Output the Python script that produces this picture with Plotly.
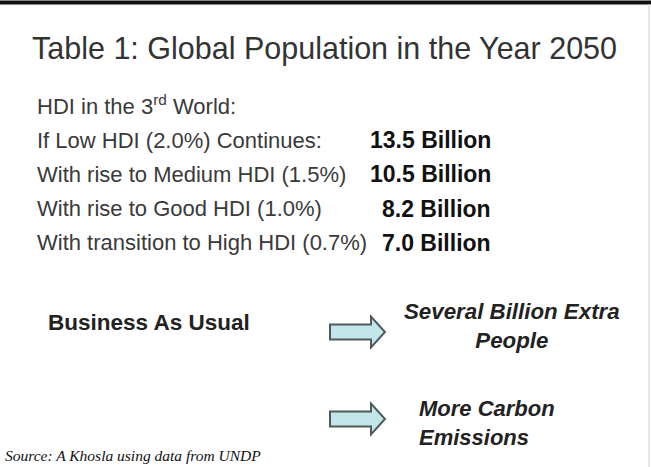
import plotly.graph_objects as go

W, H = 651, 467

title_text = "Table 1: Global Population in the Year 2050"
header_text = "HDI in the 3<sup>rd</sup> World:"
scenario_labels = [
    "If Low HDI (2.0%) Continues:",
    "With rise to Medium HDI (1.5%)",
    "With rise to Good HDI (1.0%)",
    "With transition to High HDI (0.7%)",
]
hdi_growth_pct = [2.0, 1.5, 1.0, 0.7]
population_billion = [13.5, 10.5, 8.2, 7.0]
population_unit = "Billion"
bau_label = "Business As Usual"
consequences = ["Several Billion Extra<br>People", "More Carbon<br>Emissions"]
source_text = "Source: A Khosla using data from UNDP"

FONT = "Liberation Sans, Arial, sans-serif"
TXT = "#3a3a3a"

fig = go.Figure()
fig.update_layout(
    width=W, height=H,
    margin=dict(l=0, r=0, t=0, b=0),
    paper_bgcolor="white", plot_bgcolor="white",
    showlegend=False,
    xaxis=dict(range=[0, W], visible=False, fixedrange=True),
    yaxis=dict(range=[H, 0], visible=False, fixedrange=True),
)

ann = []
ann.append(dict(x=30, y=48, text=title_text, xanchor="left", yanchor="middle",
                font=dict(family=FONT, size=30.5, color="#333333")))
ann.append(dict(x=35, y=105, text=header_text, xanchor="left", yanchor="middle",
                font=dict(family=FONT, size=22, color=TXT)))
row_y0, row_dy = 140, 34.3
for i, (lab, val) in enumerate(zip(scenario_labels, population_billion)):
    y = row_y0 + i * row_dy
    ann.append(dict(x=35, y=y, text=lab, xanchor="left", yanchor="middle",
                    font=dict(family=FONT, size=22, color=TXT)))
    ann.append(dict(x=493, y=y, text=f"<b>{val:.1f} {population_unit}</b>",
                    xanchor="right", yanchor="middle",
                    font=dict(family=FONT, size=23, color="#111111")))
ann.append(dict(x=149, y=322, text=f"<b>{bau_label}</b>", xanchor="center", yanchor="middle",
                font=dict(family=FONT, size=22.5, color="#222222")))
ann.append(dict(x=512, y=326, text=f"<b><i>{consequences[0]}</i></b>", xanchor="center",
                yanchor="middle", align="center",
                font=dict(family=FONT, size=22.3, color="#222222")))
ann.append(dict(x=417, y=423, text=f"<b><i>{consequences[1]}</i></b>", xanchor="left",
                yanchor="middle", align="left",
                font=dict(family=FONT, size=22, color="#222222")))
ann.append(dict(x=3, y=455, text=f"<i>{source_text}</i>", xanchor="left", yanchor="middle",
                font=dict(family="Liberation Serif, Times New Roman, serif", size=15.5, color="#111111")))
for a in ann:
    a.update(xref="x", yref="y", showarrow=False)
fig.update_layout(annotations=ann)

def arrow_path(x0, yc, shaft_len=41, shaft_h=15, head_h=31, head_len=14):
    xs = x0 + shaft_len
    return (f"M {x0},{yc - shaft_h/2} L {xs},{yc - shaft_h/2} L {xs},{yc - head_h/2} "
            f"L {xs + head_len},{yc} L {xs},{yc + head_h/2} L {xs},{yc + shaft_h/2} "
            f"L {x0},{yc + shaft_h/2} Z")

shapes = [
    dict(type="path", path=arrow_path(330, 332), xref="x", yref="y",
         fillcolor="#c2e6ea", line=dict(color="#4f5a5a", width=2)),
    dict(type="path", path=arrow_path(330, 419), xref="x", yref="y",
         fillcolor="#c2e6ea", line=dict(color="#4f5a5a", width=2)),
    dict(type="rect", x0=0, x1=W, y0=0.5, y1=4.5, xref="x", yref="y",
         fillcolor="#111111", line=dict(width=0)),
    dict(type="line", x0=649, x1=649, y0=4, y1=H, xref="x", yref="y",
         line=dict(color="#d0d0d0", width=1)),
]
fig.update_layout(shapes=shapes)

fig.write_html("out.html", config={"displayModeBar": False},
               post_script="document.body.style.margin='0';document.body.style.padding='0';")
